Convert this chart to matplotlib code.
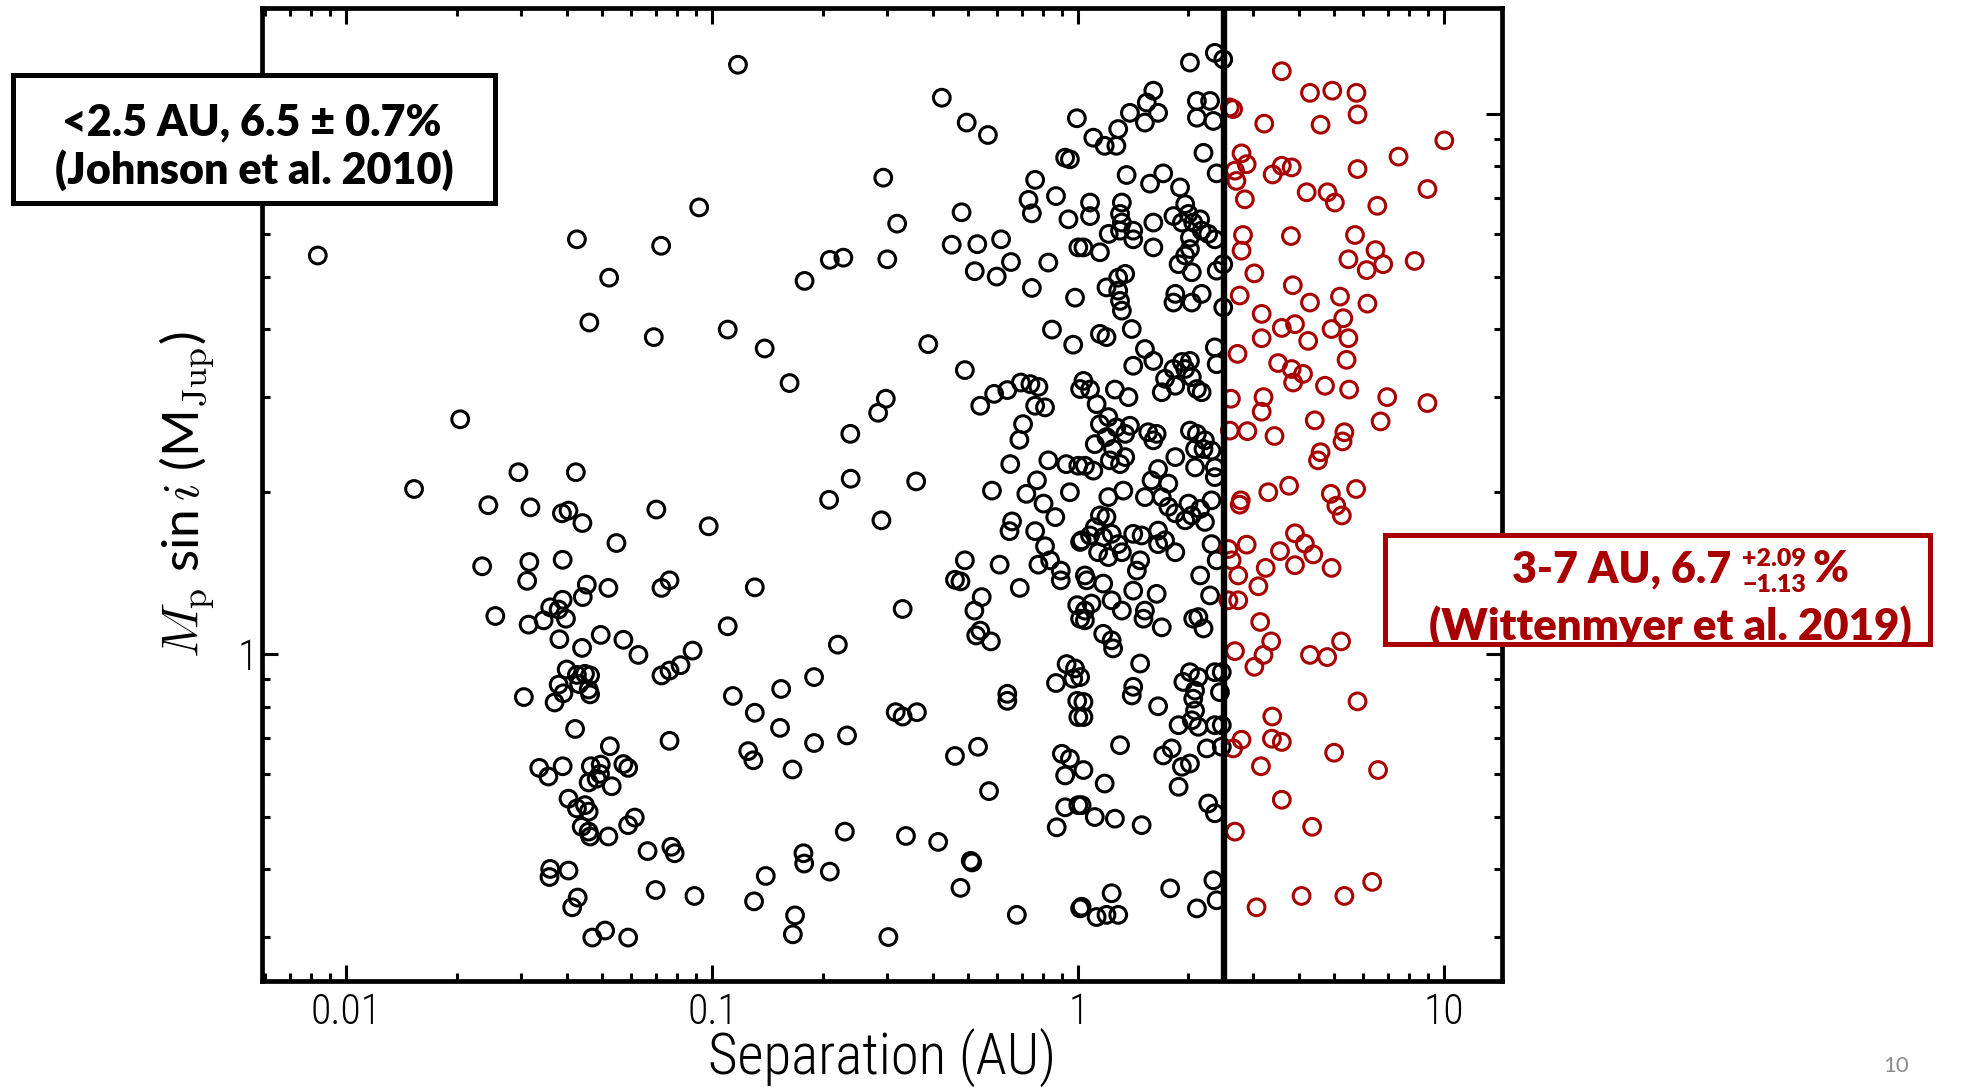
import numpy as np
import matplotlib.pyplot as plt
from matplotlib import ticker
from matplotlib.patches import Rectangle

# (log10 separation [AU], log10 Msini [M_Jup]) for planets inside the 2.5 AU cut
inner_pts = [
    (-2.078, 0.738), (-1.370, 0.768), (-1.140, 0.756), (-1.282, 0.697), (-1.336, 0.614),
    (-1.160, 0.587), (-1.689, 0.435), (-1.815, 0.306), (-1.530, 0.337), (-1.373, 0.337),
    (-1.612, 0.276), (-1.497, 0.272), (-1.411, 0.261), (-1.393, 0.266), (-1.355, 0.243),
    (-1.153, 0.268), (-1.262, 0.206), (-1.629, 0.163), (-1.500, 0.171), (-1.409, 0.175),
    (-1.506, 0.136), (-1.343, 0.129), (-1.354, 0.106), (-1.284, 0.123), (-1.139, 0.123),
    (-1.117, 0.137), (-1.593, 0.071), (-1.502, 0.055), (-1.461, 0.063), (-1.443, 0.087),
    (-1.409, 0.101), (-1.420, 0.083), (-1.400, 0.066), (-1.418, 0.028), (-1.356, 0.012),
    (-1.305, 0.036), (-1.243, 0.027), (-1.202, -0.001), (-1.139, -0.039), (-1.117, -0.030),
    (-1.398, -0.028), (-1.370, -0.038), (-1.348, -0.036), (-1.334, -0.039), (-1.420, -0.056),
    (-1.407, -0.072), (-1.364, -0.055), (-1.338, -0.065), (-1.334, -0.074), (-1.515, -0.079),
    (-1.431, -0.089), (-1.375, -0.138), (-1.280, -0.170), (-1.117, -0.160), (-1.473, -0.210),
    (-1.448, -0.226), (-1.409, -0.207), (-1.332, -0.207), (-1.305, -0.204), (-1.307, -0.221),
    (-1.338, -0.237), (-1.316, -0.230), (-1.275, -0.244), (-1.243, -0.203), (-1.230, -0.210),
    (-1.393, -0.267), (-1.370, -0.285), (-1.348, -0.279), (-1.338, -0.291), (-1.357, -0.319),
    (-1.338, -0.328), (-1.334, -0.337), (-1.284, -0.337), (-1.230, -0.316), (-1.212, -0.302),
    (-1.177, -0.364), (-1.112, -0.356), (-1.103, -0.368), (-1.443, -0.397), (-1.445, -0.412),
    (-1.393, -0.400), (-1.368, -0.450), (-1.383, -0.468), (-1.155, -0.436), (-1.328, -0.524),
    (-1.293, -0.511), (-1.230, -0.524),
    (-0.930, 1.091), (-0.373, 1.030), (-0.305, 0.984), (-0.247, 0.961), (-0.004, 0.992),
    (-0.036, 0.919), (-0.023, 0.916), (-0.533, 0.882), (-0.118, 0.878), (-0.136, 0.841),
    (-0.127, 0.816), (-0.061, 0.848), (-0.027, 0.805), (-1.036, 0.827), (-0.495, 0.797),
    (-0.319, 0.818), (-0.346, 0.758), (-0.276, 0.759), (-0.211, 0.768), (-0.184, 0.726),
    (-0.283, 0.709), (-0.223, 0.699), (-0.127, 0.678), (-0.082, 0.725), (0.000, 0.753),
    (-0.009, 0.660), (-0.679, 0.730), (-0.642, 0.734), (-0.522, 0.731), (-0.748, 0.691),
    (-0.958, 0.601), (-0.857, 0.566), (-0.789, 0.502), (-0.410, 0.574), (-0.310, 0.526),
    (-0.072, 0.601), (-0.014, 0.573), (0.005, 0.491), (-0.526, 0.473), (-0.547, 0.447),
    (-0.623, 0.408), (-0.622, 0.325), (-0.443, 0.320), (-0.268, 0.460), (-0.230, 0.482),
    (-0.194, 0.489), (-0.157, 0.503), (-0.131, 0.500), (-0.109, 0.495), (-0.118, 0.460),
    (-0.091, 0.457), (-0.151, 0.426), (-0.161, 0.397), (-0.186, 0.352), (-0.082, 0.359),
    (-0.033, 0.352), (0.000, 0.349), (-0.113, 0.322), (-0.236, 0.303), (-0.142, 0.297),
    (-0.023, 0.300), (-0.681, 0.286),
    (-0.095, 0.279), (-0.063, 0.254), (-0.538, 0.248), (-0.181, 0.246), (-0.188, 0.228),
    (-0.118, 0.228), (-0.091, 0.200), (-0.109, 0.166), (-0.077, 0.174), (-0.048, 0.155),
    (-0.048, 0.137), (-0.215, 0.166), (-0.160, 0.123), (0.005, 0.208), (-0.310, 0.174),
    (-0.337, 0.138), (-0.322, 0.135), (-0.264, 0.106), (-0.284, 0.081), (-0.268, 0.044),
    (-0.279, 0.035), (-0.239, 0.024), (-0.003, 0.091), (0.005, 0.066), (-0.480, 0.084),
    (-1.010, 0.237), (-0.884, 0.124), (-0.958, 0.052), (-0.657, 0.018), (-1.054, 0.007),
    (-1.087, -0.020), (-0.944, -0.077), (-0.884, -0.108), (-0.812, -0.064), (-0.815, -0.136),
    (-0.722, -0.042), (-0.722, -0.164), (-0.632, -0.150), (-0.902, -0.179), (-0.888, -0.196),
    (-0.781, -0.213), (-0.499, -0.107), (-0.480, -0.115), (-0.441, -0.107), (-0.194, -0.073),
    (-0.194, -0.086), (-0.032, -0.018), (-0.061, -0.053), (-0.014, -0.045), (-0.003, -0.086),
    (0.000, -0.116), (-0.337, -0.188), (-0.274, -0.171), (-0.244, -0.253), (-0.045, -0.184),
    (-0.023, -0.193), (-0.036, -0.224), (-0.036, -0.283), (0.000, -0.279), (-0.059, -0.320),
    (-1.049, -0.447), (-0.854, -0.410), (-0.886, -0.457), (-0.751, -0.368), (-0.749, -0.387),
    (-0.679, -0.402), (-0.638, -0.328), (-0.774, -0.483), (-0.780, -0.518), (-0.519, -0.523),
    (-0.471, -0.336), (-0.383, -0.347), (-0.294, -0.382), (-0.290, -0.385), (-0.322, -0.432),
    (-0.168, -0.482), (0.005, -0.470),
    (0.305, 1.095), (0.373, 1.113), (0.396, 1.101), (0.041, 0.956), (0.072, 0.941),
    (0.104, 0.941), (0.109, 0.972), (0.141, 1.002), (0.182, 0.984), (0.187, 1.021),
    (0.205, 1.043), (0.218, 1.002), (0.324, 1.024), (0.360, 1.024), (0.324, 0.993),
    (0.369, 0.987), (0.342, 0.928), (0.378, 0.890), (0.132, 0.887), (0.196, 0.871),
    (0.232, 0.890), (0.278, 0.864), (0.032, 0.836), (0.032, 0.811), (0.119, 0.836),
    (0.114, 0.815), (0.119, 0.799), (0.114, 0.784), (0.150, 0.784), (0.150, 0.768),
    (0.083, 0.778), (0.014, 0.753), (0.059, 0.744), (0.205, 0.799), (0.205, 0.753),
    (0.260, 0.811), (0.292, 0.833), (0.301, 0.815), (0.283, 0.799), (0.314, 0.799),
    (0.333, 0.805), (0.337, 0.784), (0.355, 0.778), (0.305, 0.771), (0.305, 0.750),
    (0.292, 0.738), (0.274, 0.722), (0.373, 0.768), (0.378, 0.710), (0.396, 0.722),
    (0.310, 0.707), (0.265, 0.667), (0.260, 0.651), (0.310, 0.651), (0.337, 0.667),
    (0.396, 0.642), (0.077, 0.679), (0.109, 0.673), (0.114, 0.654), (0.119, 0.636),
    (0.128, 0.704), (0.109, 0.697), (0.146, 0.602), (0.059, 0.593), (0.077, 0.587),
    (0.182, 0.565), (0.150, 0.534), (0.205, 0.543), (0.260, 0.528), (0.283, 0.541),
    (0.305, 0.543), (0.310, 0.513), (0.337, 0.485), (0.324, 0.491), (0.265, 0.497),
    (0.228, 0.485), (0.237, 0.510), (0.292, 0.528), (0.373, 0.568), (0.378, 0.537),
    (0.014, 0.506), (0.032, 0.490), (0.050, 0.463), (0.100, 0.490), (0.137, 0.476),
    (0.082, 0.439), (0.059, 0.426), (0.104, 0.420), (0.141, 0.423), (0.128, 0.408),
    (0.077, 0.402), (0.191, 0.411), (0.214, 0.408), (0.205, 0.396), (0.045, 0.389),
    (0.095, 0.380), (0.128, 0.365), (0.018, 0.349), (0.041, 0.340), (0.086, 0.359),
    (0.114, 0.352), (0.218, 0.343), (0.246, 0.316), (0.265, 0.365), (0.305, 0.414),
    (0.324, 0.408), (0.319, 0.380), (0.342, 0.380), (0.364, 0.377), (0.346, 0.396),
    (0.373, 0.346), (0.319, 0.346), (0.373, 0.328), (0.200, 0.322), (0.123, 0.303),
    (0.082, 0.291), (0.182, 0.291), (0.228, 0.291),
    (0.246, 0.273), (0.265, 0.261), (0.301, 0.279), (0.333, 0.269), (0.364, 0.285),
    (0.059, 0.257), (0.077, 0.254), (0.045, 0.235), (0.009, 0.211), (0.032, 0.220),
    (0.068, 0.217), (0.091, 0.223), (0.109, 0.204), (0.082, 0.180), (0.054, 0.189),
    (0.119, 0.189), (0.150, 0.223), (0.173, 0.220), (0.218, 0.229), (0.237, 0.211),
    (0.218, 0.204), (0.265, 0.189), (0.292, 0.248), (0.310, 0.257), (0.346, 0.245),
    (0.364, 0.204), (0.378, 0.174), (0.333, 0.146), (0.360, 0.109), (0.169, 0.174),
    (0.160, 0.155), (0.150, 0.118), (0.119, 0.081), (0.091, 0.100), (0.018, 0.146),
    (0.023, 0.137), (0.068, 0.131), (0.036, 0.094), (0.018, 0.081), (0.018, 0.063),
    (0.068, 0.038), (0.091, 0.026), (0.095, 0.011), (0.182, 0.081), (0.178, 0.066),
    (0.214, 0.112), (0.228, 0.050), (0.314, 0.066), (0.328, 0.069), (0.342, 0.048),
    (-0.009, -0.026), (0.005, -0.042), (0.014, -0.088), (0.014, -0.116), (0.169, -0.017),
    (0.150, -0.060), (0.146, -0.076), (0.218, -0.096), (0.305, -0.033), (0.287, -0.051),
    (0.328, -0.042), (0.319, -0.067), (0.314, -0.082), (0.319, -0.104), (0.310, -0.122),
    (0.328, -0.134), (0.274, -0.131), (0.373, -0.033), (0.392, -0.033), (0.387, -0.070),
    (0.373, -0.131), (0.392, -0.131), (0.114, -0.168), (0.232, -0.187), (0.255, -0.174),
    (0.283, -0.208), (0.305, -0.202), (0.274, -0.245), (0.351, -0.174), (0.392, -0.171),
    (0.014, -0.214), (0.072, -0.239), (0.009, -0.279), (0.045, -0.301), (0.100, -0.304),
    (0.173, -0.316), (0.355, -0.276), (0.373, -0.294), (0.009, -0.467), (0.050, -0.486),
    (0.077, -0.482), (0.091, -0.442), (0.109, -0.482), (0.251, -0.433), (0.324, -0.470),
    (0.369, -0.418), (0.378, -0.455),
]

# same quantities for the wide-orbit sample beyond 2.5 AU
outer_pts = [
    (0.556, 1.079), (0.633, 1.039), (0.694, 1.043), (0.760, 1.039), (0.763, 0.999),
    (0.662, 0.980), (0.508, 0.982), (0.414, 1.012), (0.423, 1.009), (1.000, 0.951),
    (0.875, 0.921), (0.763, 0.898), (0.446, 0.927), (0.460, 0.907), (0.428, 0.895),
    (0.432, 0.876), (0.455, 0.842), (0.531, 0.888), (0.556, 0.904), (0.583, 0.901),
    (0.624, 0.855), (0.681, 0.855), (0.701, 0.836), (0.817, 0.830), (0.954, 0.861),
    (0.450, 0.776), (0.446, 0.747), (0.581, 0.774), (0.756, 0.776), (0.738, 0.731),
    (0.812, 0.748), (0.833, 0.722), (0.788, 0.711), (0.919, 0.728), (0.481, 0.705),
    (0.586, 0.683), (0.441, 0.664), (0.633, 0.651), (0.715, 0.662), (0.790, 0.649),
    (0.501, 0.630), (0.501, 0.585), (0.556, 0.604), (0.592, 0.611), (0.628, 0.580),
    (0.692, 0.602), (0.724, 0.622), (0.738, 0.585), (0.733, 0.545), (0.435, 0.556),
    (0.546, 0.539), (0.583, 0.528), (0.614, 0.519), (0.587, 0.503), (0.674, 0.497),
    (0.740, 0.490), (0.844, 0.476), (0.954, 0.465), (0.417, 0.473), (0.506, 0.476),
    (0.501, 0.449), (0.414, 0.414), (0.462, 0.413), (0.536, 0.404), (0.646, 0.433),
    (0.826, 0.431), (0.727, 0.411), (0.722, 0.394), (0.662, 0.374), (0.655, 0.359),
    (0.576, 0.312), (0.519, 0.300), (0.444, 0.285), (0.690, 0.297), (0.759, 0.306),
    (0.441, 0.277), (0.705, 0.275), (0.720, 0.257), (0.410, 0.195), (0.460, 0.203),
    (0.419, 0.174), (0.437, 0.146), (0.551, 0.191), (0.592, 0.224), (0.619, 0.205),
    (0.642, 0.185), (0.592, 0.165), (0.692, 0.160), (0.512, 0.160), (0.492, 0.126),
    (0.410, 0.100), (0.437, 0.100), (0.497, 0.060), (0.428, 0.006), (0.527, 0.024),
    (0.506, -0.001), (0.481, -0.023), (0.633, -0.001), (0.680, -0.005), (0.718, 0.024),
    (0.763, -0.087), (0.530, -0.115), (0.446, -0.158), (0.423, -0.174), (0.529, -0.156),
    (0.556, -0.162), (0.699, -0.182), (0.499, -0.207), (0.819, -0.214), (0.556, -0.269),
    (0.428, -0.328), (0.639, -0.319), (0.487, -0.468), (0.610, -0.447), (0.727, -0.447),
    (0.803, -0.421),
]

log_a_in, log_m_in = np.array(inner_pts).T
log_a_out, log_m_out = np.array(outer_pts).T

a_cut = 2.5
x_ticks = [0.01, 0.1, 1, 10]
x_tick_labels = ["0.01", "0.1", "1", "10"]
y_ticks = [1, 10]
y_tick_labels = ["1", ""]  # the 10 sits behind the left-hand box

inner_label = ["<2.5 AU, 6.5 \u00b1 0.7%", "(Johnson et al. 2010)"]
outer_value, outer_up, outer_down = "3-7 AU, 6.7", "+2.09", "\u22121.13"
outer_ref = "(Wittenmyer et al. 2019)"

red = "#a80000"
W, H = 1978, 1087
thin_font = ["Roboto Condensed", "Open Sans Condensed", "Lato"]
box_font = ["Lato", "DejaVu Sans"]

plt.rcParams["mathtext.fontset"] = "cm"

fig = plt.figure(figsize=(W / 100, H / 100), dpi=100)
ax = fig.add_axes([0.1323, 0.0978, 0.6269, 0.8948])

ax.scatter(10 ** log_a_in, 10 ** log_m_in, s=145, facecolors="none",
           edgecolors="k", linewidths=2.2, zorder=2)
ax.scatter(10 ** log_a_out, 10 ** log_m_out, s=145, facecolors="none",
           edgecolors=red, linewidths=2.2, zorder=2)
ax.axvline(a_cut, color="k", lw=4.6, zorder=3)

ax.set_xscale("log")
ax.set_yscale("log")
ax.set_xlim(0.00587, 14.35)
ax.set_ylim(0.249, 15.7)

ax.xaxis.set_major_locator(ticker.FixedLocator(x_ticks))
ax.yaxis.set_major_locator(ticker.FixedLocator(y_ticks))
ax.xaxis.set_minor_locator(ticker.LogLocator(base=10, subs=np.arange(2, 10)))
ax.yaxis.set_minor_locator(ticker.LogLocator(base=10, subs=np.arange(2, 10)))
ax.xaxis.set_major_formatter(ticker.FixedFormatter(x_tick_labels))
ax.yaxis.set_major_formatter(ticker.FixedFormatter(y_tick_labels))
ax.xaxis.set_minor_formatter(ticker.NullFormatter())
ax.yaxis.set_minor_formatter(ticker.NullFormatter())

ax.tick_params(which="both", direction="in", top=True, right=True, width=2.2)
ax.tick_params(which="major", length=11.5)
ax.tick_params(which="minor", length=5.8)
ax.tick_params(axis="x", which="major", pad=8, labelsize=30)
ax.tick_params(axis="y", which="major", pad=3, labelsize=30)
for lab in ax.get_xticklabels() + ax.get_yticklabels():
    lab.set_family(thin_font)
    lab.set_fontweight("light")
for sp in ax.spines.values():
    sp.set_linewidth(3.4)

ax.set_xlabel("Separation (AU)", fontsize=41, family=thin_font,
              fontweight="light", labelpad=-3)
ax.set_ylabel(r"$M_{\rm p}$ sin$\,i$ (M$_{\rm Jup}$)", fontsize=37,
              family=["Lato", "DejaVu Sans"])
ax.yaxis.set_label_coords(-0.036, 0.5)


def fx(px):
    return px / W


def fy(py):
    return 1 - py / H


# boxed annotations sit on top of the axes frame
fig.patches.append(Rectangle((fx(13), fy(203)), fx(495) - fx(13), fy(75) - fy(203),
                             transform=fig.transFigure, facecolor="white",
                             edgecolor="k", lw=3.6, zorder=5))
fig.text(fx(252), fy(122), inner_label[0], ha="center", va="center",
         fontsize=31, fontweight="heavy", family=box_font, zorder=6)
fig.text(fx(254), fy(170), inner_label[1], ha="center", va="center",
         fontsize=31, fontweight="heavy", family=box_font, zorder=6)

fig.patches.append(Rectangle((fx(1385), fy(644)), fx(1930) - fx(1385), fy(535) - fy(644),
                             transform=fig.transFigure, facecolor="white",
                             edgecolor=red, lw=3.6, zorder=5))
fig.text(fx(1731), fy(582), outer_value, ha="right", va="baseline", color=red,
         fontsize=31, fontweight="heavy", family=box_font, zorder=6)
fig.text(fx(1774), fy(559), outer_up, ha="center", va="center", color=red,
         fontsize=18, fontweight="heavy", family=box_font, zorder=6)
fig.text(fx(1774), fy(585), outer_down, ha="center", va="center", color=red,
         fontsize=18, fontweight="heavy", family=box_font, zorder=6)
fig.text(fx(1812), fy(582), "%", ha="left", va="baseline", color=red,
         fontsize=31, fontweight="heavy", family=box_font, zorder=6)
fig.text(fx(1670), fy(626), outer_ref, ha="center", va="center", color=red,
         fontsize=31.5, fontweight="heavy", family=box_font, zorder=6)

fig.text(fx(1896), fy(1066), "10", ha="center", va="center", color="#8c8c8c",
         fontsize=16, family=["Lato", "DejaVu Sans"])

fig.savefig("out.png", dpi=100)
